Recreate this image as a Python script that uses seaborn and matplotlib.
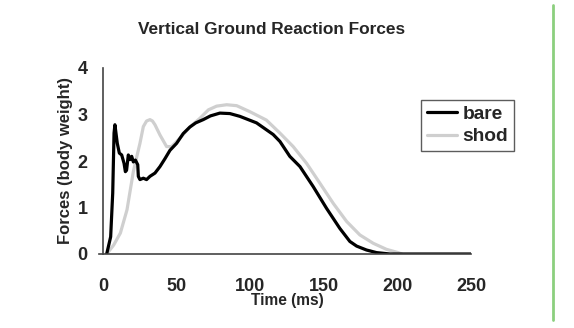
import matplotlib
matplotlib.use("Agg")
import matplotlib.pyplot as plt
import seaborn as sns
import pandas as pd
from matplotlib.lines import Line2D

sns.set_theme(style="white")
plt.rcParams['font.family'] = ['Liberation Sans', 'DejaVu Sans']

bare_t = [2.5, 5.2, 6.6, 7.5, 8.1, 9.7, 11.1, 12.7, 14.3, 15.2, 16.0, 17.2, 18.3, 19.5,
          20.6, 22.0, 23.6, 24.0, 25.1, 27.4, 29.6, 31.9, 35.3, 38.7, 42.1, 45.5,
          50.0, 54.5, 59.0, 63.0, 68.1, 73.0, 79.4, 86.2, 93.0, 104.3, 115.6, 120.2, 126.9,
          133.8, 142.8, 151.9, 160.9, 167.7, 172.3, 179.0, 185.8, 195.0, 250.0]
bare_f = [0.0, 0.37, 1.31, 2.60, 2.78, 2.38, 2.17, 2.13, 1.95, 1.77, 1.80, 2.13, 2.03, 2.10,
          1.98, 2.02, 1.92, 1.67, 1.60, 1.63, 1.60, 1.67, 1.74, 1.88, 2.05, 2.23,
          2.38, 2.59, 2.73, 2.82, 2.89, 2.97, 3.03, 3.02, 2.96, 2.82, 2.57, 2.42, 2.10,
          1.88, 1.45, 0.98, 0.55, 0.27, 0.17, 0.086, 0.03, 0.0, 0.0]

shod_t = [2.5, 7.2, 11.8, 16.3, 20.6, 23.0, 25.1, 27.4, 29.6, 31.9, 33.6, 35.3, 38.7, 43.2,
          46.6, 52.2, 59.0, 65.9, 71.6, 77.2, 84.0, 90.8, 99.8, 111.0, 120.2, 129.2, 138.3,
          147.4, 156.4, 165.5, 174.5, 183.6, 192.6, 200.5, 203.0]
shod_f = [0.0, 0.19, 0.45, 0.95, 1.77, 2.10, 2.38, 2.74, 2.86, 2.89, 2.86, 2.78, 2.56, 2.31,
          2.31, 2.49, 2.73, 2.92, 3.10, 3.18, 3.21, 3.19, 3.06, 2.88, 2.60, 2.31, 1.95,
          1.52, 1.09, 0.70, 0.41, 0.23, 0.10, 0.03, 0.0]

x_ticks = [0, 50, 100, 150, 200, 250]
y_ticks = [0, 1, 2, 3, 4]

df = pd.concat([
    pd.DataFrame({"Time": bare_t, "Force": bare_f, "cond": "bare"}),
    pd.DataFrame({"Time": shod_t, "Force": shod_f, "cond": "shod"}),
])

fig = plt.figure(figsize=(5.74, 3.28), dpi=100)
ax = fig.add_axes([103/574, 1-254/328, (471-103)/574, (254-68)/328])

sns.lineplot(data=df, x="Time", y="Force", hue="cond", hue_order=["shod", "bare"],
             palette={"bare": "black", "shod": "#cfcfcf"}, linewidth=2.3, ax=ax,
             sort=False, estimator=None)

ax.set_xlim(0, 250)
ax.set_ylim(0, 4)
ax.set_xticks(x_ticks)
ax.set_yticks(y_ticks)
for s in ["top", "right"]:
    ax.spines[s].set_visible(False)
for s in ["left", "bottom"]:
    ax.spines[s].set_color("#444444")
    ax.spines[s].set_linewidth(1.2)
ax.spines["bottom"].set_bounds(-3, 250)
ax.tick_params(axis="both", direction="inout", length=8, width=1.1, color="#444444",
               labelsize=13)
for lab in ax.get_xticklabels() + ax.get_yticklabels():
    lab.set_fontweight("bold")
ax.tick_params(axis="x", pad=13)
ax.tick_params(axis="y", pad=7)

ax.set_xlabel("Time (ms)", fontsize=11.2, fontweight="bold", labelpad=-1)
ax.set_ylabel("Forces (body weight)", fontsize=12, fontweight="bold", labelpad=3)
fig.text(272/574, 1-30/328, "Vertical Ground Reaction Forces", ha="center", va="center",
         fontsize=12.4, fontweight="bold")

handles = [Line2D([], [], color="black", lw=2.3), Line2D([], [], color="#cfcfcf", lw=2.3)]
leg = ax.legend(handles, ["bare", "shod"], loc="upper left",
                bbox_to_anchor=((421-103)/368, (254-100)/186), frameon=True, fancybox=False,
                edgecolor="#333333", prop={"weight": "bold", "size": 13.8},
                handlelength=1.6, handletextpad=0.25, borderpad=0.3, labelspacing=0.25,
                borderaxespad=0)
leg.get_frame().set_linewidth(1.0)

fig.add_artist(Line2D([553/574, 553/574], [1-320/328, 1-5/328], color="#8ccf7e", lw=2,
                      transform=fig.transFigure))

fig.savefig("out.png", dpi=100, facecolor="white")
